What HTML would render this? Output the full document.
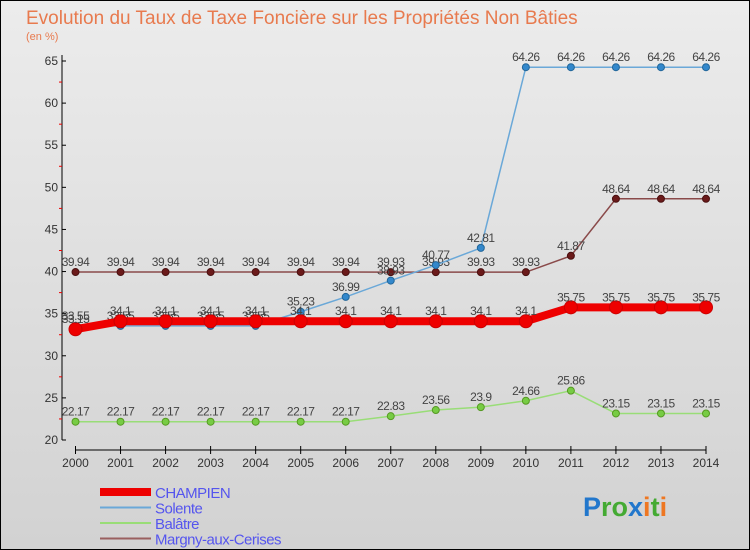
<!DOCTYPE html>
<html><head><meta charset="utf-8"><style>
body{margin:0;width:750px;height:550px;overflow:hidden;font-family:"Liberation Sans",sans-serif}
#c{position:absolute;left:0;top:0;width:748px;height:548px;border:1px solid #000;background:linear-gradient(#ececec,#d2d2d2)}
</style></head><body>
<div id="c">
<svg id="s" width="750" height="550" style="position:absolute;left:-1px;top:-1px"></svg>
</div>
<script>
const years=[2000,2001,2002,2003,2004,2005,2006,2007,2008,2009,2010,2011,2012,2013,2014];
const yTicks=[20,25,30,35,40,45,50,55,60,65];
const champien=[33.15,34.1,34.1,34.1,34.1,34.1,34.1,34.1,34.1,34.1,34.1,35.75,35.75,35.75,35.75];
const solente=[33.55,33.55,33.55,33.55,33.55,35.23,36.99,38.93,40.77,42.81,64.26,64.26,64.26,64.26,64.26];
const balatre=[22.17,22.17,22.17,22.17,22.17,22.17,22.17,22.83,23.56,23.9,24.66,25.86,23.15,23.15,23.15];
const margny=[39.94,39.94,39.94,39.94,39.94,39.94,39.94,39.93,39.93,39.93,39.93,41.87,48.64,48.64,48.64];
const NS='http://www.w3.org/2000/svg',s=document.getElementById('s');
const X=i=>75.5+i*(706-75.5)/14, Y=v=>440-(v-20)*(379/45);
function el(t,a,txt){const e=document.createElementNS(NS,t);for(const k in a)e.setAttribute(k,a[k]);if(txt!==undefined)e.textContent=txt;s.appendChild(e);return e;}
let t=el('text',{x:26,y:24,'font-size':19,fill:'#e87a4e'},'Evolution du Taux de Taxe Foncière sur les Propriétés Non Bâties');

t=el('text',{x:26,y:40,'font-size':11,fill:'#e87a4e'},'(en %)');

let a=el('line',{x1:62,y1:55,x2:62,y2:440,stroke:'#000'});
a=el('line',{x1:75.5,y1:450,x2:706,y2:450,stroke:'#000'});
yTicks.forEach((v,i)=>{el('line',{x1:62,y1:Y(v),x2:66,y2:Y(v),stroke:'#000'});
 let l=el('text',{x:58,y:Y(v)+4,'font-size':12,fill:'#333','text-anchor':'end'},v);
 
 if(i<yTicks.length-1)el('line',{x1:59,y1:Y(v+2.5),x2:62,y2:Y(v+2.5),stroke:'#e00'});});
years.forEach((y,i)=>{el('line',{x1:X(i),y1:446,x2:X(i),y2:454,stroke:'#000'});
 let l=el('text',{x:X(i),y:467,'font-size':12,fill:'#333','text-anchor':'middle'},y);
 });
function series(name,data,color,w,r,mk,dark){
 const g=document.createElementNS(NS,'g');s.appendChild(g);
 
 const p=el('polyline',{points:data.map((v,i)=>X(i)+','+Y(v)).join(' '),fill:'none',stroke:color,'stroke-width':w});g.appendChild(p);
 data.forEach((v,i)=>{const c=el('circle',{cx:X(i),cy:Y(v),r:r,fill:mk,stroke:dark,'stroke-width':1});
  g.appendChild(c);
  const l=el('text',{x:X(i),y:Y(v)-6,'font-size':12,fill:'#444','text-anchor':'middle','letter-spacing':'-0.5'},v);
  g.appendChild(l);});
}
series('margny',margny,'#8a4a4a',1.5,3.5,'#6b1a1a','#4a1010');
series('balatre',balatre,'#99dd77',1.5,3.5,'#77cc44','#559922');
series('solente',solente,'#6aa8d8',1.5,3.5,'#3388cc','#226699');
series('champien',champien,'#ee0000',8,6.5,'#ee0000','#cc0000');
const leg=[['CHAMPIEN','#ee0000',8],['Solente','#6aa8d8',2],['Balâtre','#99dd77',2],['Margny-aux-Cerises','#9a6060',2]];
leg.forEach((e,i)=>{const y=492+i*15.5;
 const l=el('line',{x1:100,y1:y,x2:151,y2:y,stroke:e[1],'stroke-width':e[2]});
 const t=el('text',{x:155,y:y+6,'font-size':15,fill:'#5555ee','letter-spacing':'-0.5'},e[0]);});
const lg=el('text',{x:583,y:516,'font-size':27,'font-weight':'bold'});
[['P','#2277cc'],['ro','#44aa33'],['x','#2277cc'],['i','#ee7722'],['t','#44aa33'],['i','#ee7722']].forEach(p=>{const ts=document.createElementNS(NS,'tspan');ts.setAttribute('fill',p[1]);ts.textContent=p[0];lg.appendChild(ts);});
</script>
</body></html>
